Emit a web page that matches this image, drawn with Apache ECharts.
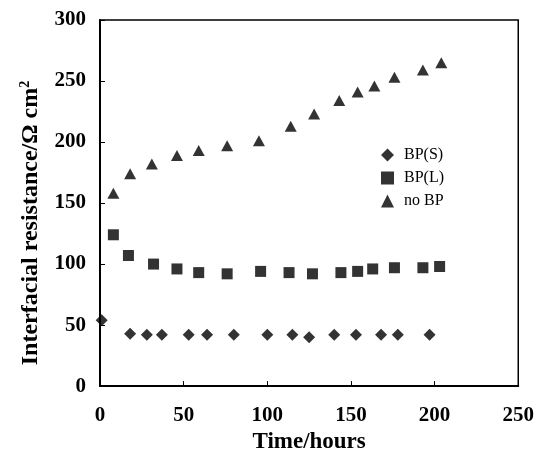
<!DOCTYPE html>
<html>
<head>
<meta charset="utf-8">
<script src="https://cdn.jsdelivr.net/npm/echarts@6/dist/echarts.min.js"></script>
<style>
    html, body { margin: 0; padding: 0; background: #fff; }
    #chart { width: 537px; height: 459px; }
</style>
</head>
<body>
<div id="chart"></div>
<script>
// BP(S)
var timeS = [1, 18, 28, 37, 53, 64, 80, 100, 115, 125, 140, 153, 168, 178, 197];
var valS = [54, 43, 42, 42, 42, 42, 42, 42, 42, 40, 42, 42, 42, 42, 42];

// BP(L)
var timeL = [8, 17, 32, 46, 59, 76, 96, 113, 127, 144, 154, 163, 176, 193, 203];
var valL = [124, 107, 100, 96, 93, 92, 94, 93, 92, 93, 94, 96, 97, 97, 98];

// no BP
var timeN = [8, 18, 31, 46, 59, 76, 95, 114, 128, 143, 154, 164, 176, 193, 204];
var valN = [158, 174, 182, 189, 193, 197, 201, 213, 223, 234, 241, 246, 253, 259, 265];

var seriesNames = ['BP(S)', 'BP(L)', 'no BP'];

function pairs(xs, ys) {
    var out = [];
    for (var i = 0; i < xs.length; i++) {
        out.push([xs[i], ys[i]]);
    }
    return out;
}

var font = "'Liberation Serif', 'Times New Roman', serif";
var chart = echarts.init(document.getElementById('chart'));

var option = {
    backgroundColor: '#fff',
    animation: false,
    textStyle: { fontFamily: font },
    grid: {
        left: 100, right: 16, top: 20, bottom: 62,
        show: true, borderColor: '#000', borderWidth: 1.5
    },
    legend: {
        orient: 'vertical',
        left: 376, top: 142,
        itemWidth: 13, itemHeight: 13, itemGap: 7,
        textStyle: { fontFamily: font, fontSize: 16, color: '#000', padding: [0, 0, 0, 5] },
        data: seriesNames
    },
    xAxis: {
        type: 'value',
        min: 0, max: 250, interval: 50,
        name: 'Time/hours',
        nameLocation: 'middle',
        nameGap: 36,
        nameTextStyle: { fontFamily: font, fontWeight: 'bold', fontSize: 23, color: '#000' },
        axisLine: { lineStyle: { color: '#000', width: 2 } },
        axisTick: { inside: true, length: 5, lineStyle: { color: '#000' } },
        axisLabel: { margin: 19, fontFamily: font, fontWeight: 'bold', fontSize: 21, color: '#000' },
        splitLine: { show: false }
    },
    yAxis: {
        type: 'value',
        min: 0, max: 300, interval: 50,
        name: '{a|Interfacial resistance/Ω cm}{s|2}',
        nameLocation: 'middle',
        nameGap: 56,
        nameTextStyle: {
            padding: [0, 40, 0, 0],
            rich: {
                a: { fontFamily: font, fontWeight: 'bold', fontSize: 24, color: '#000' },
                s: { fontFamily: font, fontWeight: 'bold', fontSize: 14, color: '#000', verticalAlign: 'top', padding: [0, 0, 12, 0] }
            }
        },
        axisLine: { lineStyle: { color: '#000', width: 2 } },
        axisTick: { inside: true, length: 5, lineStyle: { color: '#000' } },
        axisLabel: { margin: 14, fontFamily: font, fontWeight: 'bold', fontSize: 21, color: '#000' },
        splitLine: { show: false }
    },
    series: [{
        name: seriesNames[0],
        type: 'scatter',
        symbol: 'diamond',
        symbolSize: 12,
        itemStyle: { color: '#000' },
        data: pairs(timeS, valS)
    }, {
        name: seriesNames[1],
        type: 'scatter',
        symbol: 'rect',
        symbolSize: 11,
        itemStyle: { color: '#000' },
        data: pairs(timeL, valL)
    }, {
        name: seriesNames[2],
        type: 'scatter',
        symbol: 'triangle',
        symbolSize: [12, 11],
        itemStyle: { color: '#000' },
        data: pairs(timeN, valN)
    }]
};

chart.setOption(option);
</script>
</body>
</html>
